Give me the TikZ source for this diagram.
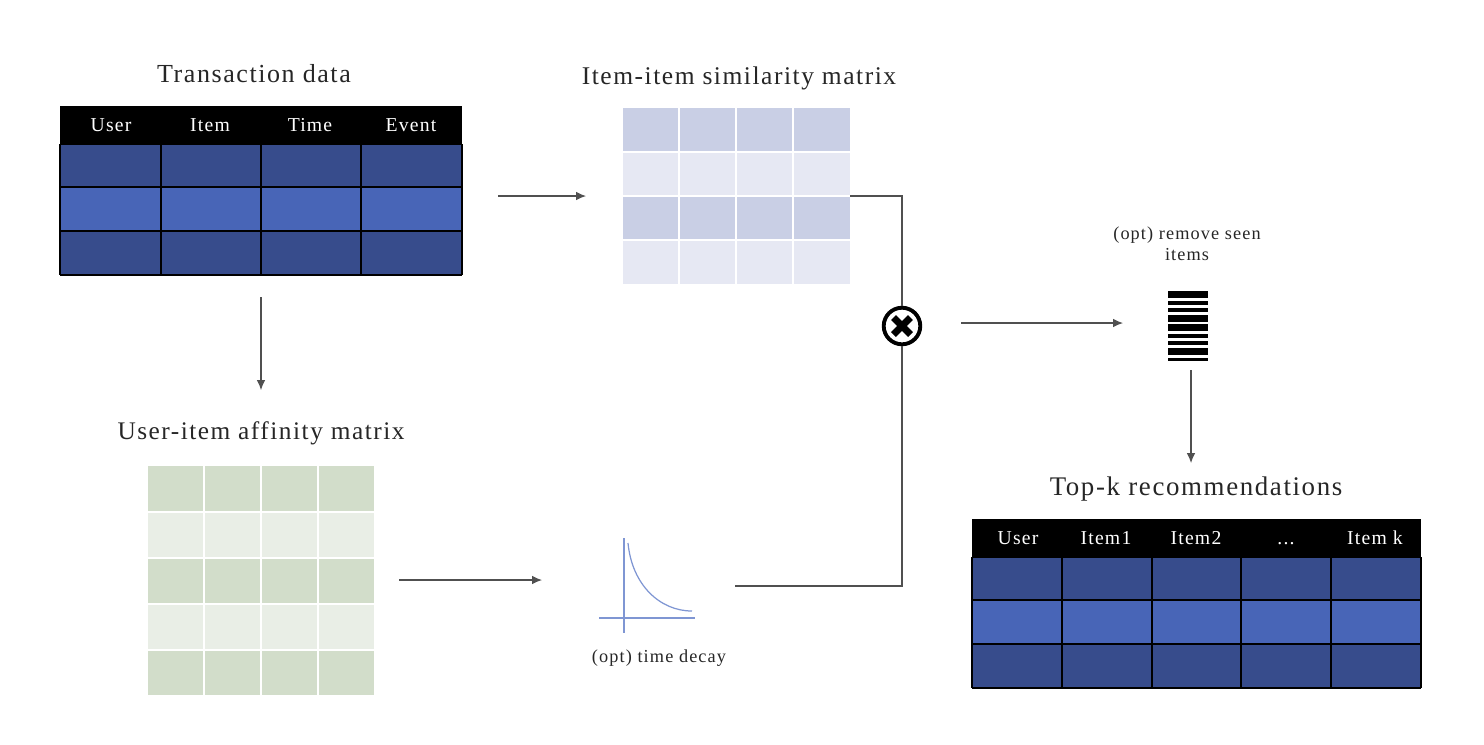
\documentclass[tikz,border=0pt]{standalone}
\usepackage{fontspec}
\setmainfont[LetterSpace=6]{Liberation Serif}
\usetikzlibrary{arrows.meta}
\definecolor{rowdark}{HTML}{374C8C}
\definecolor{rowlight}{HTML}{4865B7}
\definecolor{simdark}{HTML}{C9CFE5}
\definecolor{simlight}{HTML}{E6E8F3}
\definecolor{affdark}{HTML}{D2DDCA}
\definecolor{afflight}{HTML}{E9EEE6}
\definecolor{decayblue}{HTML}{7F96D3}
\definecolor{wiregray}{HTML}{505050}
\tikzset{
	titlelabel/.style={font=\fontsize{#1}{9}\selectfont,text=black!85},
	titlelabel/.default=7.4,
	notelabel/.style={font=\fontsize{5.2}{6}\selectfont,text=black!85,align=center},
	headlabel/.style={font=\fontsize{5.6}{7}\selectfont,text=white,text height=4pt,text depth=1pt},
	wire/.style={wiregray,line width=0.3pt},
	flow/.style={wire,-{Latex[length=2.8pt,width=2.4pt]}},
	multnode/.style={circle,draw=black,line width=1.1pt,fill=white,minimum size=10.4pt,inner sep=0pt}
}
\begin{document}
\begin{tikzpicture}[x=0.01cm,y=-0.01cm]
	%%%%% START %%%%%
	\useasboundingbox (0,0) rectangle (1484,744);

	% transaction table
	\fill[black] (60,106) rectangle (462,144);
	\foreach \ya/\yb/\col in {144/187/rowdark,187/231/rowlight,231/275/rowdark}{
		\fill[\col] (60,\ya) rectangle (462,\yb);
	}
	\foreach \y in {144,187,231,275}{\draw[black,line width=0.4pt] (60,\y) -- (462,\y);}
	\foreach \x in {60,161,261,361,462}{\draw[black,line width=0.4pt] (\x,144) -- (\x,275);}
	\foreach \x/\name in {111/User,210/Item,310/Time,411/Event}{
		\node[headlabel] (trans\name) at (\x,126) {\name};
	}
	\node[titlelabel] (transtitle) at (254,74) {Transaction data};

	% similarity matrix
	\foreach \ya/\yb/\col in {108/152/simdark,152/196/simlight,196/240/simdark,240/284/simlight}{
		\fill[\col] (623,\ya) rectangle (850,\yb);
	}
	\foreach \y in {152,196,240}{\draw[white,line width=0.35pt] (623,\y) -- (850,\y);}
	\foreach \x in {679,736,793}{\draw[white,line width=0.35pt] (\x,108) -- (\x,284);}
	\node[titlelabel=7.25] (simtitle) at (739,78) {Item-item similarity matrix};

	% affinity matrix
	\foreach \ya/\yb/\col in {466/512/affdark,512/558/afflight,558/604/affdark,604/650/afflight,650/695/affdark}{
		\fill[\col] (148,\ya) rectangle (374,\yb);
	}
	\foreach \y in {512,558,604,650}{\draw[white,line width=0.35pt] (148,\y) -- (374,\y);}
	\foreach \x in {204,261,318}{\draw[white,line width=0.35pt] (\x,466) -- (\x,695);}
	\node[titlelabel=7.2] (afftitle) at (261,433) {User-item affinity matrix};

	% top-k table
	\fill[black] (972,519) rectangle (1421,557);
	\foreach \ya/\yb/\col in {557/600/rowdark,600/644/rowlight,644/688/rowdark}{
		\fill[\col] (972,\ya) rectangle (1421,\yb);
	}
	\foreach \y in {557,600,644,688}{\draw[black,line width=0.4pt] (972,\y) -- (1421,\y);}
	\foreach \x in {972,1062,1152,1241,1331,1421}{\draw[black,line width=0.4pt] (\x,557) -- (\x,688);}
	\foreach \x/\name/\id in {1018/User/a,1106/Item1/b,1196/Item2/c,1286/{...}/d,1375/Item k/e}{
		\node[headlabel] (top\id) at (\x,539) {\name};
	}
	\node[titlelabel=7.65] (toptitle) at (1196,489) {Top-k recommendations};

	% time decay
	\draw[decayblue,line width=0.35pt] (624,538) -- (624,633);
	\draw[decayblue,line width=0.35pt] (599,618) -- (695,618);
	\draw[decayblue,line width=0.35pt] (628,543) .. controls (632,585) and (660,611) .. (692,611);
	\node[notelabel] (decaylabel) at (659,658) {(opt) time decay};

	% seen items
	\foreach \ya/\yb in {291/298,300.5/304.5,307.5/311.5,314.5/321.5,323.5/331,333.5/337.5,340.5/344.5,347.5/354.5,357.5/361}{
		\fill[black] (1168,\ya) rectangle (1208,\yb);
	}
	\node[notelabel] (seenlabel) at (1187,244) {(opt) remove seen\\items};

	% connectors
	\coordinate (transout) at (261,297);
	\coordinate (affin) at (261,390);
	\coordinate (simfrom) at (498,196);
	\coordinate (simin) at (586,196);
	\coordinate (simout) at (850,196);
	\coordinate (afffrom) at (399,580);
	\coordinate (decayin) at (542,580);
	\coordinate (decayout) at (735,586);
	\coordinate (multfrom) at (961,323);
	\coordinate (seenin) at (1123,323);
	\coordinate (seenout) at (1191,370);
	\coordinate (topin) at (1191,463);

	\node[multnode] (mult) at (902,326) {};
	\draw[line width=2pt,black] (mult.center) ++(-8.5,-8.5) -- ++(17,17);
	\draw[line width=2pt,black] (mult.center) ++(-8.5,8.5) -- ++(17,-17);

	\draw[flow] (transout) -- (affin);
	\draw[flow] (simfrom) -- (simin);
	\draw[flow] (afffrom) -- (decayin);
	\draw[flow] (multfrom) -- (seenin);
	\draw[flow] (seenout) -- (topin);
	\draw[wire] (simout) -| (mult.north);
	\draw[wire] (decayout) -| (mult.south);
	%%%%% END %%%%%
\end{tikzpicture}
\end{document}
